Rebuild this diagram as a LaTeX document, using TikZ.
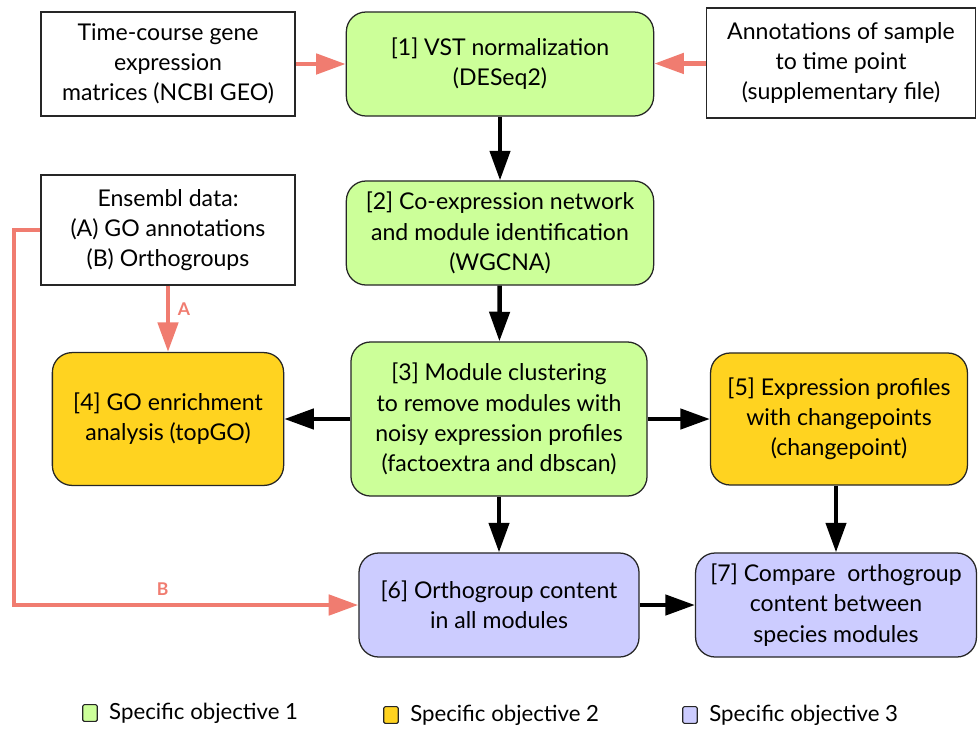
\documentclass[tikz,border=0pt]{standalone}
\usepackage{fontspec}
\setmainfont{Lato}
\usepackage{xcolor}
\usepackage{tikz}
\usetikzlibrary{arrows.meta,positioning,calc}
\definecolor{objgreen} {RGB}{204,255,153}
\definecolor{objgold}  {RGB}{255,211,32}
\definecolor{objviolet}{RGB}{204,204,255}
\definecolor{linkred}  {RGB}{240,124,112}
\tikzset{
  stepbox/.style={draw=black!85, line width=0.9pt, rounded corners=14pt, align=center,
                  font=\fontsize{16.4}{21.5}\selectfont, inner sep=2pt},
  srcbox/.style ={draw=black!85, line width=0.9pt, align=center,
                  font=\fontsize{16.4}{21.5}\selectfont, inner sep=2pt, fill=white},
  greenbox/.style ={stepbox, fill=objgreen},
  goldbox/.style  ={stepbox, fill=objgold},
  violetbox/.style={stepbox, fill=objviolet},
  arr/.style    ={-{Triangle[length=0.74cm,width=0.5cm]}, line width=3.2pt},
  rarr/.style   ={-{Triangle[length=0.74cm,width=0.5cm]}, line width=3.4pt, draw=linkred},
  rlab/.style   ={text=linkred, font=\bfseries\fontsize{12.5}{14}\selectfont},
  legsq/.style  ={draw=black!85, line width=0.8pt, rounded corners=1pt,
                  minimum width=0.36cm, minimum height=0.42cm, inner sep=0pt},
  legtxt/.style ={font=\fontsize{15.8}{17}\selectfont, anchor=west, inner sep=0pt},
}
\begin{document}
\begin{tikzpicture}[x=0.025cm,y=-0.025cm]
  \useasboundingbox (0,0) rectangle (978,731);
  % inputs
  \node[srcbox, minimum width=6.35cm, minimum height=2.6cm] (ts) at (168,64)
    {Time-course gene\\expression\\matrices (NCBI GEO)};
  \node[srcbox, minimum width=6.72cm, minimum height=2.75cm] (ann) at (841,63)
    {Annotations of sample\\to time point\\(supplementary file)};
  \node[srcbox, minimum width=6.35cm, minimum height=2.75cm] (ens) at (168,230)
    {Ensembl data:\\(A) GO annotations\\(B) Orthogroups};
  % objective 1
  \node[greenbox, minimum width=7.68cm, minimum height=2.6cm] (vst) at (500,64)
    {[1] VST normalization\\(DESeq2)};
  \node[greenbox, minimum width=7.68cm, minimum height=2.6cm] (wg) at (500,233)
    {[2] Co-expression network\\and module identification\\(WGCNA)};
  \node[greenbox, minimum width=7.4cm, minimum height=3.85cm] (mc) at (499,419)
    {[3] Module clustering\\to remove modules with\\noisy expression profiles\\(factoextra and dbscan)};
  % objective 2
  \node[goldbox, minimum width=5.78cm, minimum height=3.32cm] (go) at (168,419)
    {[4] GO enrichment\\analysis (topGO)};
  \node[goldbox, minimum width=6.42cm, minimum height=3.3cm] (ep) at (839,419)
    {[5] Expression profiles\\with changepoints\\(changepoint)};
  % objective 3
  \node[violetbox, minimum width=7.0cm, minimum height=2.6cm] (oc) at (499,605)
    {[6] Orthogroup content\\in all modules};
  \node[violetbox, minimum width=7.02cm, minimum height=2.6cm] (cmp) at (836,605)
    {[7] Compare\ \ orthogroup\\content between\\species modules};
  % connectors
  \draw[arr] (vst) -- (wg);
  \draw[arr] (wg) -- (mc);
  \draw[arr] (mc) -- (go);
  \draw[arr] (mc) -- (ep);
  \draw[arr] (mc) -- (oc);
  \draw[arr] (ep.south -| cmp.north) -- (cmp.north);
  \draw[arr] (oc) -- (cmp);
  \draw[rarr] (ts) -- (vst);
  \draw[rarr] (ann) -- (vst);
  \draw[rarr] (ens) -- node[rlab, right=2pt, pos=0.35] (la) {A} (go);
  \coordinate (bend) at (14,230);
  \draw[rarr] (ens.west) -- (bend) |- node[rlab, above=2pt, pos=0.716] (lb) {B} (oc.west);
  % legend
  \node[legsq, fill=objgreen]  (l1) at (90,713) {};
  \node[legtxt, right=0.28cm of l1] (t1) {Specific objective 1};
  \node[legsq, fill=objgold]   (l2) at (391,715) {};
  \node[legtxt, right=0.28cm of l2] (t2) {Specific objective 2};
  \node[legsq, fill=objviolet] (l3) at (690,715) {};
  \node[legtxt, right=0.28cm of l3] (t3) {Specific objective 3};
\end{tikzpicture}
\end{document}
